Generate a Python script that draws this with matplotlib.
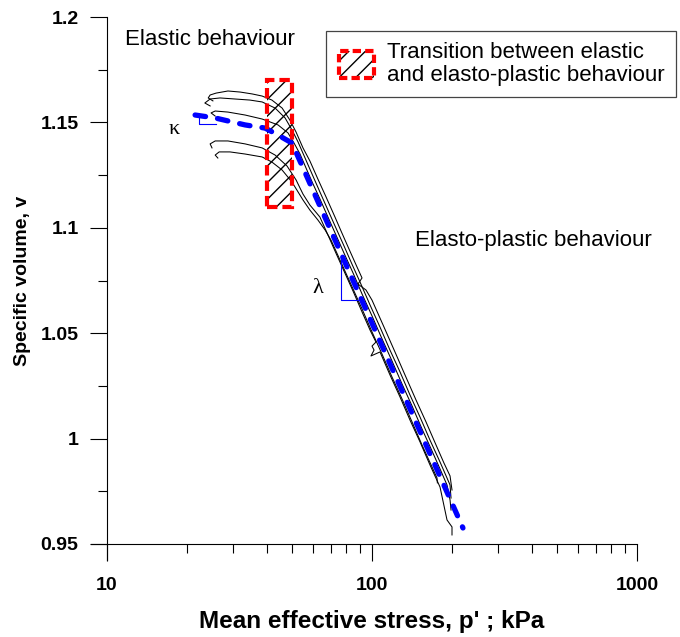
import matplotlib
matplotlib.use('Agg')
import matplotlib.pyplot as plt
from matplotlib.patches import Rectangle, Patch
from matplotlib.lines import Line2D
from matplotlib.legend_handler import HandlerBase
from matplotlib.ticker import FixedLocator, NullFormatter, FixedFormatter

plt.rcParams['font.family'] = ['Liberation Sans', 'DejaVu Sans']

# ---------------- data ----------------
# test curves: mean effective stress p' (kPa) and specific volume v
p1 = [25.1, 24.1, 24.5, 25.8, 28.6, 31.8, 35.3, 38.5, 41.9, 45.8, 49.0, 51.7, 54.9,
      58.3, 62.5, 67.1, 72.5, 76.4, 81.9, 87.8, 91.7, 88.5, 94.9, 100.0, 111.0,
      122.1, 133.2, 146.6, 159.9, 174.4, 186.9, 197.0, 200.4]
v1 = [1.1602, 1.1616, 1.1630, 1.1639, 1.1649, 1.1644, 1.1635, 1.1625, 1.1606, 1.1568,
      1.1511, 1.1454, 1.1379, 1.1317, 1.1231, 1.1146, 1.1051, 1.0985, 1.0899, 1.0814,
      1.0762, 1.0733, 1.0705, 1.0657, 1.0529, 1.0411, 1.0302, 1.0183, 1.0079, 0.9970,
      0.9884, 0.9823, 0.9756]

p2 = [24.5, 23.4, 24.5, 26.7, 30.4, 34.6, 38.5, 43.1, 47.0, 49.9, 52.6, 55.9, 59.4,
      63.6, 68.2, 73.1, 78.4, 84.0, 90.1, 98.3, 107.2, 116.9, 127.6, 139.1, 151.8,
      165.5, 180.6, 191.9, 197.0, 198.7]
v2 = [1.1578, 1.1592, 1.1611, 1.1616, 1.1611, 1.1606, 1.1597, 1.1568, 1.1521, 1.1464,
      1.1407, 1.1331, 1.1255, 1.1170, 1.1084, 1.0999, 1.0914, 1.0828, 1.0743, 1.0634,
      1.0529, 1.0420, 1.0316, 1.0207, 1.0102, 0.9993, 0.9889, 0.9813, 0.9780, 0.9718]

p3 = [25.6, 24.7, 25.6, 28.6, 33.2, 38.5, 44.2, 48.2, 50.8, 53.5, 56.8, 59.9, 63.6,
      68.2, 73.1, 78.4, 84.8, 91.7, 100.0, 109.1, 119.0, 129.8, 141.6, 154.4, 168.5,
      180.6, 191.9, 197.0, 198.7]
v3 = [1.1530, 1.1545, 1.1554, 1.1549, 1.1535, 1.1516, 1.1488, 1.1450, 1.1402, 1.1350,
      1.1274, 1.1208, 1.1137, 1.1051, 1.0966, 1.0880, 1.0786, 1.0686, 1.0582, 1.0473,
      1.0368, 1.0259, 1.0155, 1.0046, 0.9941, 0.9856, 0.9780, 0.9709, 0.9661]

p4 = [24.9, 24.5, 25.6, 28.6, 33.2, 38.5, 43.1, 47.8, 51.7, 54.9, 58.3, 63.6, 68.2,
      73.1, 78.4, 84.8, 91.7, 98.3, 103.5, 100.0, 101.8, 99.1, 107.2, 116.9, 127.6,
      139.1, 151.8, 165.5, 180.6, 191.9, 200.4, 200.4]
v4 = [1.1379, 1.1398, 1.1412, 1.1412, 1.1398, 1.1379, 1.1345, 1.1293, 1.1227, 1.1160,
      1.1108, 1.1051, 1.0966, 1.0880, 1.0795, 1.0700, 1.0601, 1.0515, 1.0458, 1.0439,
      1.0420, 1.0392, 1.0411, 1.0302, 1.0197, 1.0088, 0.9984, 0.9875, 0.9770, 0.9614,
      0.9581, 0.9543]

p5 = [26.2, 25.6, 26.5, 29.1, 33.2, 38.5, 41.9, 45.8, 49.9, 52.6, 54.9, 58.3, 62.5,
      66.5, 70.0, 73.1, 78.4, 84.8, 91.7, 100.0, 109.1, 119.0, 129.8, 141.6, 154.4,
      168.5, 175.9, 176.5]
v5 = [1.1331, 1.1345, 1.1360, 1.1360, 1.1350, 1.1336, 1.1312, 1.1274, 1.1217, 1.1170,
      1.1132, 1.1084, 1.1037, 1.0990, 1.0942, 1.0890, 1.0805, 1.0710, 1.0615, 1.0506,
      1.0401, 1.0292, 1.0188, 1.0079, 0.9970, 0.9865, 0.9813, 0.9790]

curves_p = [p1, p2, p3, p4, p5]
curves_v = [v1, v2, v3, v4, v5]

# idealised behaviour (blue dashed)
ideal_p = [21.5, 25.6, 33.2, 39.5, 44.2, 49.9, 220.4]
ideal_v = [1.1535, 1.1521, 1.1488, 1.1473, 1.1440, 1.1402, 0.9576]

# slope triangles
kappa_p = [22.2, 22.2, 25.8]
kappa_v = [1.1540, 1.1492, 1.1492]
lambda_p = [76.4, 76.4, 90.1]
lambda_v = [1.0847, 1.0657, 1.0657]

# transition zone
trans_p = [40.0, 50.0]
trans_v = [1.11, 1.17]

x_major = [10, 100, 1000]
x_major_labels = ['10', '100', '1000']
y_major = [0.95, 1.0, 1.05, 1.1, 1.15, 1.2]
y_major_labels = ['0.95', '1', '1.05', '1.1', '1.15', '1.2']
y_minor = [0.975, 1.025, 1.075, 1.125, 1.175]

legend_label = 'Transition between elastic\nand elasto-plastic behaviour'

# ---------------- figure ----------------
W, H = 680, 637
fig = plt.figure(figsize=(W / 100, H / 100), dpi=100)
ax = fig.add_axes([107 / W, 1 - 544 / H, 530 / W, 527 / H])
ax.set_xscale('log')
ax.set_xlim(10, 1000)
ax.set_ylim(0.95, 1.2)

for pp, vv in zip(curves_p, curves_v):
    ax.plot(pp, vv, color='black', lw=0.75, zorder=3)

ax.plot(kappa_p, kappa_v, color='blue', lw=0.8, zorder=3)
ax.plot(lambda_p, lambda_v, color='blue', lw=0.8, zorder=3)

ax.plot(ideal_p, ideal_v, color='blue', lw=3.8, dashes=(2.0, 2.3),
        dash_capstyle='round', zorder=4)

# transition zone rectangle
rx, ry = trans_p[0], trans_v[0]
rw, rh = trans_p[1] - trans_p[0], trans_v[1] - trans_v[0]
ax.add_patch(Rectangle((rx, ry), rw, rh, facecolor='none', edgecolor='black',
                       lw=0, hatch='//', zorder=2))
ax.add_patch(Rectangle((rx, ry), rw, rh, facecolor='none', edgecolor='red',
                       lw=3, linestyle=(0, (2.5, 1.2)), zorder=5))

# texts
ax.text(11.7, 1.1891, 'Elastic behaviour', fontsize=16, ha='left', va='center')
ax.text(145.3, 1.0942, 'Elasto-plastic behaviour', fontsize=16, ha='left', va='center')
ax.text(18.0, 1.1464, 'κ', fontsize=16, ha='center', va='center',
        family=['Liberation Serif', 'DejaVu Serif'])
ax.text(62.5, 1.0714, 'λ', fontsize=16, ha='center', va='center',
        family=['Liberation Serif', 'DejaVu Serif'])

# axes styling
for s in ['top', 'right', 'left', 'bottom']:
    ax.spines[s].set_visible(False)
ax.add_line(Line2D([0, 0], [-16 / 527, 1], transform=ax.transAxes, color='black',
                   lw=0.8, clip_on=False))
ax.add_line(Line2D([-16 / 530, 1], [0, 0], transform=ax.transAxes, color='black',
                   lw=0.8, clip_on=False))

ax.xaxis.set_major_locator(FixedLocator(x_major))
ax.xaxis.set_major_formatter(FixedFormatter(x_major_labels))
ax.xaxis.set_minor_locator(FixedLocator([m * d for d in (10, 100) for m in range(2, 10)]))
ax.xaxis.set_minor_formatter(NullFormatter())
ax.yaxis.set_major_locator(FixedLocator(y_major))
ax.yaxis.set_major_formatter(FixedFormatter(y_major_labels))
ax.yaxis.set_minor_locator(FixedLocator(y_minor))
ax.yaxis.set_minor_formatter(NullFormatter())

ax.tick_params(which='major', direction='out', length=12.5, width=0.8, pad=8,
               labelsize=14)
ax.tick_params(axis='x', which='major', pad=11)
ax.tick_params(which='minor', direction='out', length=6.5, width=0.8)
for lab in ax.get_xticklabels() + ax.get_yticklabels():
    lab.set_fontweight('bold')

ax.set_xlabel("Mean effective stress, p' ; kPa", fontsize=17.5, fontweight='bold',
              labelpad=12)
ax.set_ylabel('Specific volume, v', fontsize=14, fontweight='bold', labelpad=7)


# legend with hatched dashed box
class HatchHandler(HandlerBase):
    def create_artists(self, legend, orig_handle, xdescent, ydescent, width,
                       height, fontsize, trans):
        w = 1.55 * fontsize
        h = 1.2 * fontsize
        x0 = width - w - xdescent
        y0 = (height - h) / 2 - ydescent
        r1 = Rectangle((x0, y0), w, h, facecolor='none', edgecolor='black', lw=0,
                       hatch='//', transform=trans)
        r2 = Rectangle((x0, y0), w, h, facecolor='none', edgecolor='red', lw=3,
                       linestyle=(0, (2.0, 1.0)), transform=trans)
        return [r1, r2]


handle = Patch(facecolor='none', edgecolor='red')
leg = fig.legend([handle], [legend_label], handler_map={Patch: HatchHandler()},
                 loc='upper right', bbox_to_anchor=(676 / W, 1 - 31 / H),
                 bbox_transform=fig.transFigure, fontsize=16, frameon=True,
                 fancybox=False, framealpha=1, edgecolor='#444444',
                 borderpad=0.5, borderaxespad=0, handlelength=1.65,
                 handleheight=1.2, handletextpad=0.6)
leg.get_frame().set_linewidth(0.9)
for t in leg.get_texts():
    t.set_linespacing(1.1)

fig.savefig('out.png', dpi=100)
